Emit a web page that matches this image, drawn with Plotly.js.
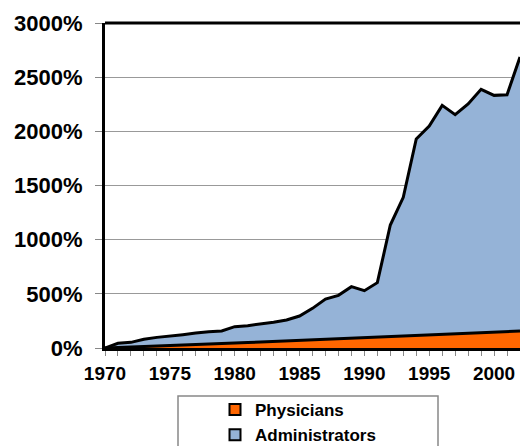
<!DOCTYPE html>
<html>
<head>
<meta charset="utf-8">
<script src="https://cdn.plot.ly/plotly-3.0.1.min.js"></script>
<style>
  html, body { margin: 0; padding: 0; background: #fff; }
  #chart { width: 520px; height: 446px; }
</style>
</head>
<body>
<div id="chart"></div>
<script>
const years = [1970,1971,1972,1973,1974,1975,1976,1977,1978,1979,
               1980,1981,1982,1983,1984,1985,1986,1987,1988,1989,
               1990,1991,1992,1993,1994,1995,1996,1997,1998,1999,
               2000,2001,2002];
const administrators = [0,43,52,80,98,108,123,138,151,157,
                        197,206,221,237,258,295,366,452,486,566,
                        529,603,1135,1391,1930,2049,2240,2154,2252,2388,
                        2332,2338,2686];
const physicians = [0,4,8,12,16,20,25,30,34,40,
                    45,50,55,60,66,72,76,80,84,88,
                    92,97,102,108,112,118,124,130,136,141,
                    146,151,157];
const seriesNames = ['Physicians', 'Administrators'];
const yTicks = [0, 500, 1000, 1500, 2000, 2500, 3000];
const yTickLabels = ['0%', '500%', '1000%', '1500%', '2000%', '2500%', '3000%'];

const FONT = 'Arial, "Liberation Sans", sans-serif';
const BLUE = '#95B3D7';
const ORANGE = '#FF6600';

const traces = [
  { x: years, y: administrators, type: 'scatter', mode: 'lines', fill: 'tozeroy',
    fillcolor: BLUE, line: { color: '#000', width: 3 }, showlegend: false, hoverinfo: 'skip' },
  { x: years, y: physicians, type: 'scatter', mode: 'lines', fill: 'tozeroy',
    fillcolor: ORANGE, line: { color: '#000', width: 3 }, showlegend: false, hoverinfo: 'skip' },
  { x: [null], y: [null], type: 'scatter', mode: 'markers', name: seriesNames[0],
    marker: { symbol: 'square', size: 11, color: ORANGE, line: { color: '#000', width: 2 } } },
  { x: [null], y: [null], type: 'scatter', mode: 'markers', name: seriesNames[1],
    marker: { symbol: 'square', size: 11, color: BLUE, line: { color: '#000', width: 2 } } }
];

const W = 520, H = 446;
const plotW = W - 105;
const plotH = 348 - 23;
const px = v => (v - 105) / plotW;
const py = v => (348 - v) / plotH;

const layout = {
  width: W, height: H,
  margin: { l: 105, r: 0, t: 23, b: 98, pad: 0, autoexpand: false },
  paper_bgcolor: '#fff', plot_bgcolor: '#fff',
  font: { family: FONT, color: '#000' },
  showlegend: true,
  legend: {
    xref: 'container', yref: 'container',
    x: 215 / W, xanchor: 'left', y: 1 - 392 / H, yanchor: 'top',
    bgcolor: 'rgba(0,0,0,0)', borderwidth: 0,
    font: { family: FONT, size: 17, weight: 'bold', color: '#000' },
    tracegroupgap: 0, itemwidth: 30
  },
  xaxis: {
    range: [1970, 2002], tick0: 1970, dtick: 5, ticks: 'outside', ticklen: 5, tickcolor: '#888', tickwidth: 1,
    minor: { dtick: 1, ticks: 'outside', ticklen: 5, tickcolor: '#888', tickwidth: 1, showgrid: false },
    showline: true, linecolor: '#000', linewidth: 3, showgrid: false, zeroline: false,
    tickfont: { family: FONT, size: 19, weight: 'bold', color: '#000' },
    ticklabelstandoff: 1, fixedrange: true, automargin: false
  },
  yaxis: {
    range: [0, 3000], tickmode: 'array', tickvals: yTicks, ticktext: yTickLabels,
    ticks: 'outside', ticklen: 7, tickcolor: '#888', tickwidth: 1,
    showline: true, linecolor: '#000', linewidth: 3, showgrid: true, gridcolor: '#999', gridwidth: 1,
    zeroline: false, tickfont: { family: FONT, size: 22, weight: 'bold', color: '#000' },
    ticklabelstandoff: 8, fixedrange: true, automargin: false
  },
  shapes: [
    { type: 'line', xref: 'paper', yref: 'paper', x0: 0, x1: 1, y0: 1, y1: 1,
      line: { color: '#000', width: 3 } },
    { type: 'rect', xref: 'paper', yref: 'paper', x0: px(178), x1: px(438), y0: py(396), y1: py(452),
      line: { color: '#888', width: 1.5 }, fillcolor: 'rgba(0,0,0,0)' }
  ]
};

Plotly.newPlot('chart', traces, layout, { displayModeBar: false, staticPlot: true });
</script>
</body>
</html>
